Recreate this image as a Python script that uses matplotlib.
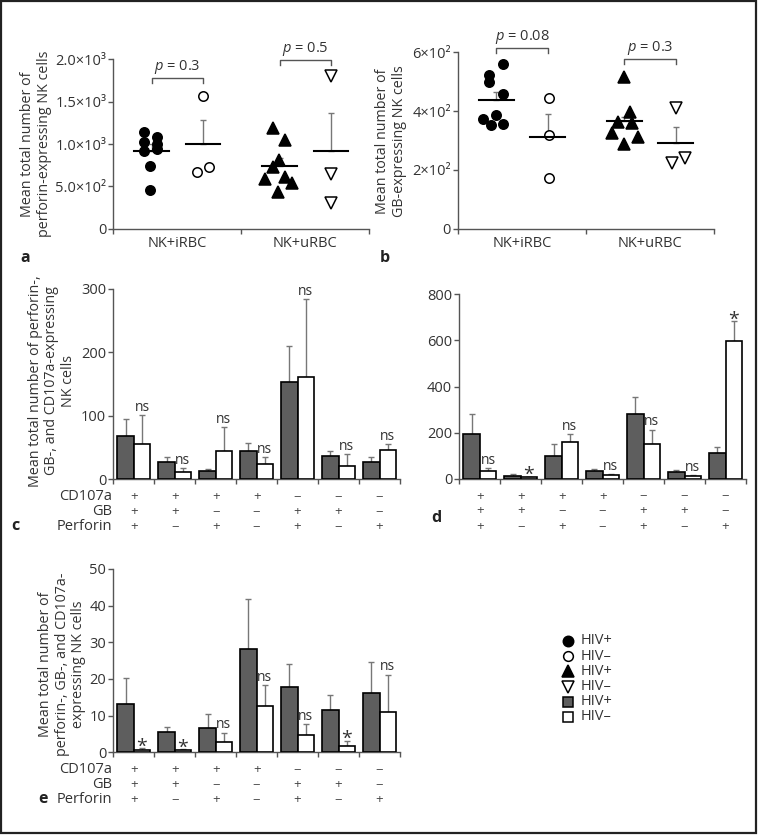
import matplotlib
matplotlib.use('Agg')
import matplotlib.pyplot as plt
import numpy as np
from matplotlib.patches import Rectangle

plt.rcParams['font.family'] = ['Open Sans', 'DejaVu Sans']
plt.rcParams['mathtext.fontset'] = 'custom'
plt.rcParams['mathtext.it'] = 'Open Sans:italic'
plt.rcParams['mathtext.rm'] = 'Open Sans'
plt.rcParams['font.size'] = 10

# ---- panels a, b : single donors (x = jitter positions)
groups_ab = ['NK+iRBC', 'NK+uRBC']

a_pos_irbc = [1144, 1085, 1026, 999, 936, 920, 745, 456]
a_pos_irbc_x = [0.48, 0.69, 0.48, 0.69, 0.69, 0.48, 0.58, 0.58]
a_neg_irbc = [1568, 731, 672]
a_neg_irbc_x = [1.40, 1.50, 1.30]
a_pos_urbc = [1191, 1046, 810, 724, 606, 583, 535, 436]
a_pos_urbc_x = [2.49, 2.68, 2.59, 2.49, 2.68, 2.37, 2.79, 2.58]
a_neg_urbc = [1800, 641, 300]
a_neg_urbc_x = [3.40, 3.40, 3.40]
a_mean = [920, 995, 743, 916]
a_sem = [75, 285, 95, 450]
a_pvals = ['$p$ = 0.3', '$p$ = 0.5']
a_bracket = [1777, 1989]

b_pos_irbc = [559, 523, 500, 457, 387, 372, 355, 352]
b_pos_irbc_x = [0.71, 0.49, 0.49, 0.71, 0.60, 0.39, 0.71, 0.51]
b_neg_irbc = [443, 320, 171]
b_neg_irbc_x = [1.42, 1.42, 1.42]
b_pos_urbc = [515, 398, 364, 358, 324, 313, 288]
b_pos_urbc_x = [2.60, 2.69, 2.50, 2.72, 2.40, 2.81, 2.60]
b_neg_urbc = [409, 241, 222]
b_neg_urbc_x = [3.41, 3.54, 3.35]
b_mean = [438, 313, 366, 290]
b_sem = [26, 77, 15, 57]
b_pvals = ['$p$ = 0.08', '$p$ = 0.3']
b_bracket = [616, 577]

# ---- panels c, d, e : subsets (HIV+ dark, HIV- white)
cd107a = ['+', '+', '+', '+', '−', '−', '−']
gb = ['+', '+', '−', '−', '+', '+', '−']
perforin = ['+', '−', '+', '−', '+', '−', '+']

c_pos = [68.8, 27.8, 12.6, 44, 154, 36.8, 26.8]
c_pos_sem = [26, 7, 3, 14, 56, 8, 8]
c_neg = [55, 11.6, 44, 24, 161, 20.5, 45.7]
c_neg_sem = [46, 6, 39, 11, 123, 19, 10]
c_sig = ['ns', 'ns', 'ns', 'ns', 'ns', 'ns', 'ns']

d_pos = [195, 14.4, 100, 33, 282, 29, 113]
d_pos_sem = [87, 6, 53, 9, 72, 8, 24]
d_neg = [33, 8.7, 160, 16, 153, 11.6, 598]
d_neg_sem = [15, 1.5, 33, 7, 61, 7, 86]
d_sig = ['ns', '*', 'ns', 'ns', 'ns', 'ns', '*']

e_pos = [13.3, 5.5, 6.6, 28.2, 17.8, 11.6, 16.3]
e_pos_sem = [7.1, 1.5, 3.8, 13.7, 6.2, 3.9, 8.3]
e_neg = [0.6, 0.55, 2.7, 12.7, 4.7, 1.7, 11.0]
e_neg_sem = [0.5, 0.3, 2.7, 5.6, 2.9, 1.5, 10.2]
e_sig = ['*', '*', 'ns', 'ns', 'ns', '*', 'ns']

legend_labels = ['HIV+', 'HIV–', 'HIV+', 'HIV–', 'HIV+', 'HIV–']

W, H = 760, 836
fig = plt.figure(figsize=(W / 100, H / 100), dpi=100)
AX = '#555555'
TXT = '#333333'
TS = 10.5


def px_axes(l, t, r, b):
    return fig.add_axes([l / W, 1 - b / H, (r - l) / W, (b - t) / H])


def style(ax):
    for s in ['top', 'right']:
        ax.spines[s].set_visible(False)
    for s in ['left', 'bottom']:
        ax.spines[s].set_color(AX)
        ax.spines[s].set_linewidth(1)
    ax.tick_params(which='major', direction='out', length=3.6, width=1,
                   color=AX, labelcolor=TXT, labelsize=TS, pad=1.5)


def dots(ax, mean, sem, pvals, brk, sets, ytop, yticks, ylabels):
    style(ax)
    for xs, ys, mk, fc, ms in sets:
        ax.plot(xs, ys, ls='none', marker=mk, ms=ms, mfc=fc, mec='black',
                mew=1.1, clip_on=False, zorder=3)
    xc = [0.6, 1.4, 2.6, 3.4]
    ax.errorbar(xc, mean, yerr=[np.zeros(4), sem], fmt='none', ecolor='#777777',
                elinewidth=1, capsize=2.5, zorder=2)
    for x, m in zip(xc, mean):
        ax.plot([x - 0.27, x + 0.27], [m, m], color='black', lw=1.5, zorder=4)
    span = ytop * 0.03
    for i, (p, h) in enumerate(zip(pvals, brk)):
        x0, x1 = xc[2 * i], xc[2 * i + 1]
        ax.plot([x0, x0, x1, x1], [h - span, h, h, h - span], color=AX, lw=1,
                clip_on=False)
        ax.annotate(p, ((x0 + x1) / 2, h), xytext=(0, 1.5), textcoords='offset points',
                    ha='center', va='bottom', fontsize=TS, color=TXT,
                    annotation_clip=False)
    ax.set_xlim(0, 4)
    ax.set_ylim(0, ytop)
    ax.set_yticks(yticks)
    ax.set_yticklabels(ylabels)
    ax.set_xticks([0, 2, 4])
    ax.set_xticklabels([])
    ax.set_xticks([1, 3], minor=True)
    ax.set_xticklabels(groups_ab, minor=True)
    ax.tick_params(axis='x', which='minor', length=0, pad=5.5, labelcolor=TXT,
                   labelsize=TS)


def bars(ax, pos, pos_sem, neg, neg_sem, sig, ytop, yticks, rowlabels):
    style(ax)
    x = np.arange(7) + 0.5
    ax.bar(x - 0.2, pos, 0.4, color='#5e5e5e', edgecolor='black', lw=1.2, zorder=3)
    ax.bar(x + 0.2, neg, 0.4, color='white', edgecolor='black', lw=1.2, zorder=3)
    ax.errorbar(x - 0.2, pos, yerr=[np.zeros(7), pos_sem], fmt='none',
                ecolor='#777777', elinewidth=1, capsize=2.5, zorder=2)
    ax.errorbar(x + 0.2, neg, yerr=[np.zeros(7), neg_sem], fmt='none',
                ecolor='#777777', elinewidth=1, capsize=2.5, zorder=2)
    for xi, v, s, m in zip(x + 0.2, neg, neg_sem, sig):
        if m == '*':
            ax.annotate(m, (xi, v + s), xytext=(0, 1.2), textcoords='offset points',
                        ha='center', va='center', fontsize=14, color=TXT,
                        annotation_clip=False)
        else:
            ax.annotate(m, (xi, v + s), xytext=(0, 5.5), textcoords='offset points',
                        ha='center', va='center', fontsize=10, color=TXT,
                        annotation_clip=False)
    ax.set_xlim(0, 7)
    ax.set_ylim(0, ytop)
    ax.set_yticks(yticks)
    ax.set_xticks(np.arange(8))
    ax.set_xticklabels([])
    offs = [-12.3, -23, -34.3]
    for row, off, name in zip([cd107a, gb, perforin], offs, ['CD107a', 'GB', 'Perforin']):
        for xi, sgn in zip(x, row):
            ax.annotate(sgn, (xi, 0), xycoords=('data', 'axes fraction'),
                        xytext=(0, off), textcoords='offset points',
                        ha='center', va='center', fontsize=9.5, color='#444444')
        if rowlabels:
            ax.annotate(name, (0, 0), xycoords='axes fraction', xytext=(-1, off),
                        textcoords='offset points', ha='right', va='center',
                        fontsize=TS, color=TXT)


ax_a = px_axes(113.3, 59.3, 369.3, 228.7)
dots(ax_a, a_mean, a_sem, a_pvals, a_bracket,
     [(a_pos_irbc_x, a_pos_irbc, 'o', 'black', 6.8),
      (a_neg_irbc_x, a_neg_irbc, 'o', 'white', 6.8),
      (a_pos_urbc_x, a_pos_urbc, '^', 'black', 8),
      (a_neg_urbc_x, a_neg_urbc, 'v', 'white', 8)],
     2000, [0, 500, 1000, 1500, 2000],
     ['0', '5.0×10²', '1.0×10³', '1.5×10³', '2.0×10³'])

ax_b = px_axes(458, 52.3, 714, 228.7)
dots(ax_b, b_mean, b_sem, b_pvals, b_bracket,
     [(b_pos_irbc_x, b_pos_irbc, 'o', 'black', 6.8),
      (b_neg_irbc_x, b_neg_irbc, 'o', 'white', 6.8),
      (b_pos_urbc_x, b_pos_urbc, '^', 'black', 8),
      (b_neg_urbc_x, b_neg_urbc, 'v', 'white', 8)],
     600, [0, 200, 400, 600], ['0', '2×10²', '4×10²', '6×10²'])

ax_c = px_axes(113.3, 289, 400, 479.3)
bars(ax_c, c_pos, c_pos_sem, c_neg, c_neg_sem, c_sig, 300, [0, 100, 200, 300], True)

ax_d = px_axes(459.3, 294.3, 746, 479)
bars(ax_d, d_pos, d_pos_sem, d_neg, d_neg_sem, d_sig, 800, [0, 200, 400, 600, 800], False)

ax_e = px_axes(113.3, 569, 400, 752.3)
bars(ax_e, e_pos, e_pos_sem, e_neg, e_neg_sem, e_sig, 50, [0, 10, 20, 30, 40, 50], True)

# overlay in pixel coordinates for labels, legend and frame
ov = fig.add_axes([0, 0, 1, 1])
ov.set_xlim(0, W)
ov.set_ylim(H, 0)
ov.axis('off')
ov.patch.set_visible(False)

ylab = dict(rotation=90, ha='center', va='center', multialignment='center',
            fontsize=10.3, color=TXT, linespacing=1.15)
ov.text(36, 144, 'Mean total number of\nperforin-expressing NK cells', **ylab)
ov.text(391, 141, 'Mean total number of\nGB-expressing NK cells', **ylab)
ov.text(52, 381, 'Mean total number of perforin-,\nGB-, and CD107a-expressing\nNK cells', **ylab)
ov.text(62, 664, 'Mean total number of\nperforin-, GB-, and CD107a-\nexpressing NK cells', **ylab)

pl = dict(ha='center', va='center', fontsize=11.5, fontweight='bold', color='#222222')
ov.text(25, 258, 'a', **pl)
ov.text(385, 258, 'b', **pl)
ov.text(15, 526, 'c', **pl)
ov.text(436, 518, 'd', **pl)
ov.text(43, 799, 'e', **pl)

leg_styles = [('o', 'black', 'black', 7.5), ('o', 'white', 'black', 7),
              ('^', 'black', 'black', 8.5), ('v', 'white', 'black', 8),
              ('s', '#5e5e5e', 'black', 7), ('s', 'white', 'black', 7)]
for i, ((mk, fc, ec, ms), lab) in enumerate(zip(leg_styles, legend_labels)):
    y = 641 + i * 15.2
    ov.plot([568], [y], ls='none', marker=mk, mfc=fc, mec=ec, ms=ms, mew=1.1)
    ov.text(581, y, lab, ha='left', va='center', fontsize=TS, color=TXT)

ov.add_patch(Rectangle((1, 1), 755, 832, fill=False, ec='#222222', lw=1.6))

fig.savefig('out.png', dpi=100)
